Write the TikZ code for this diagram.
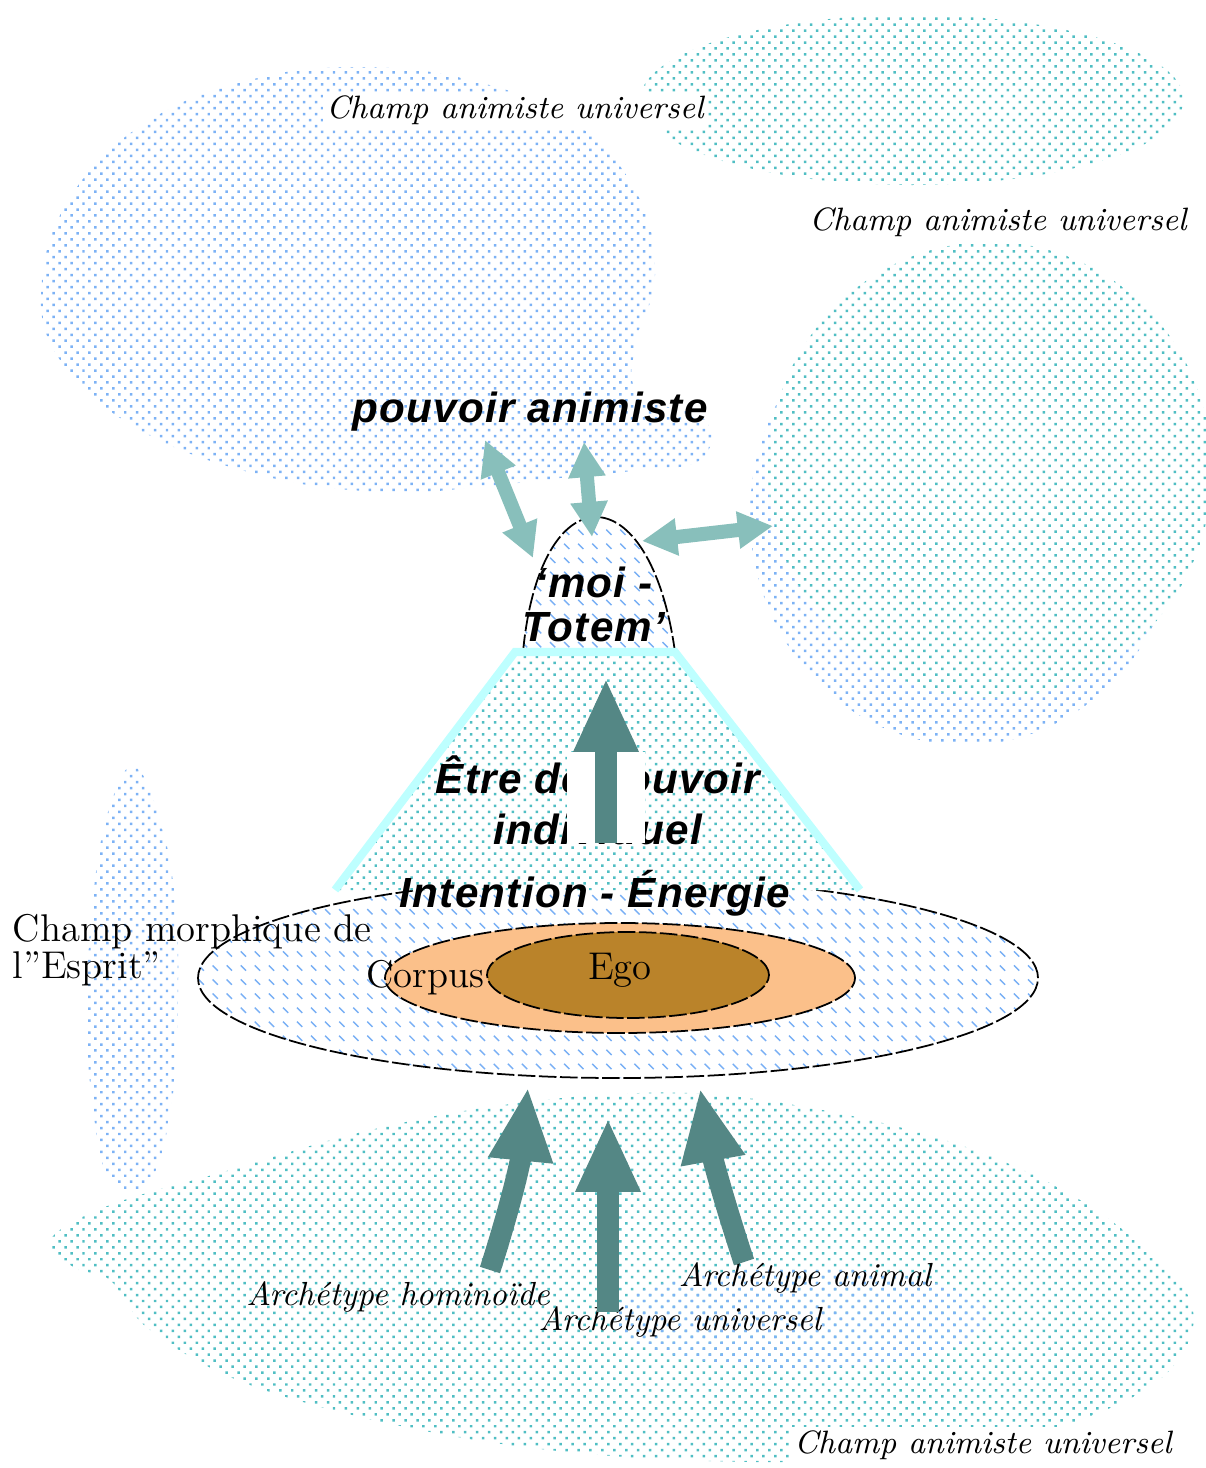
\documentclass[tikz,border=0pt]{standalone}
\usepackage{fontspec}
\usepackage{tikz}
\usetikzlibrary{patterns,patterns.meta,shapes,arrows.meta,positioning}
\newfontfamily\powerfont[LetterSpace=3]{Liberation Sans}
\definecolor{dotblue}{RGB}{125,178,245}
\definecolor{dotteal}{RGB}{80,190,195}
\definecolor{hatchblue}{RGB}{120,175,245}
\definecolor{coneline}{RGB}{190,255,255}
\definecolor{darkteal}{RGB}{84,135,133}
\definecolor{lightteal}{RGB}{136,191,187}
\definecolor{corpusorange}{RGB}{251,192,138}
\definecolor{egobrown}{RGB}{186,131,42}
\pgfdeclarepatternformonly{dashhatch}{\pgfqpoint{-1pt}{-1pt}}{\pgfqpoint{5pt}{5pt}}{\pgfqpoint{4pt}{4pt}}{
  \pgfsetlinewidth{.4pt}
  \pgfpathmoveto{\pgfqpoint{0.5pt}{3pt}}
  \pgfpathlineto{\pgfqpoint{2pt}{1.5pt}}
  \pgfusepath{stroke}}
\tikzstyle{bluefield}=[pattern={Dots[radius=.5pt,distance=2.4pt,angle=45]},pattern color=dotblue]
\tikzstyle{tealfield}=[pattern={Dots[radius=.5pt,distance=2.4pt,angle=45]},pattern color=dotteal]
\tikzstyle{hatched}=[preaction={fill=white},pattern=dashhatch,pattern color=hatchblue]
\tikzstyle{outline}=[draw=black,dash pattern=on 5pt off 1pt,line width=.5pt]
\tikzstyle{ring}=[ellipse,outline,inner sep=0pt]
\tikzstyle{flow}=[darkteal,line width=6pt,-{Triangle[length=21pt,width=17pt]}]
\tikzstyle{link}=[lightteal,line width=4pt,{Triangle[length=10pt,width=10pt]}-{Triangle[length=10pt,width=10pt]}]
\tikzstyle{champ}=[font=\fontsize{9.2}{10}\itshape,fill=white,inner sep=1pt]
\tikzstyle{arch}=[font=\fontsize{9.5}{10}\itshape,inner sep=1pt]
\tikzstyle{power}=[font=\fontsize{12}{12.5}\powerfont\bfseries\itshape,align=center,inner sep=0pt]
\tikzstyle{plain}=[font=\fontsize{11}{10.5}\selectfont,inner sep=0pt]

\begin{document}
\begin{tikzpicture}[x=.1mm, y=-.1mm]
  \useasboundingbox (0,0) rectangle (1205,1468);

  \fill[bluefield] plot[smooth cycle, tension=.7] coordinates {(356,67) (470,80)
    (570,120) (635,190) (655,275) (635,345) (640,395) (705,420) (700,460)
    (640,470) (560,478) (470,488) (380,492) (260,475) (140,430) (60,360)
    (42,280) (75,190) (150,120) (250,80)};
  \fill[tealfield] (912,100) ellipse [x radius=27.2mm, y radius=8.5mm];
  \fill[bluefield] (965,515) ellipse [x radius=21.5mm, y radius=23mm];
  \fill[preaction={fill=white},tealfield] (990,470) ellipse [x radius=22.2mm, y radius=22.8mm];
  \fill[bluefield] plot[smooth cycle, tension=.7] coordinates {(135,767) (160,820)
    (175,900) (178,1000) (172,1100) (150,1180) (110,1180) (92,1100) (87,1000)
    (95,880) (112,800)};
  \fill[tealfield] plot[smooth cycle, tension=.6] coordinates {(50,1240) (110,1205)
    (230,1170) (350,1135) (470,1110) (600,1095) (720,1095) (870,1120)
    (1000,1160) (1110,1220) (1190,1300) (1170,1370) (1080,1420) (950,1450)
    (800,1462) (600,1455) (420,1430) (250,1385) (150,1330) (110,1280)
    (75,1268)};
  \fill[bluefield] (800,1318) ellipse [x radius=19mm, y radius=5mm];

  \node[champ] (cu1) at (515,110) {Champ animiste universel};
  \node[champ] (cu2) at (998,222) {Champ animiste universel};
  \node[champ] (cu3) at (983,1445) {Champ animiste universel};

  \node[ring,hatched,minimum width=84mm,minimum height=20mm] (field) at (618,978) {};

  \path[preaction={fill=white},tealfield] (335,890) -- (515,652) -- (675,652)
    -- (860,890) -- cycle;
  \path[preaction={fill=white},hatched] (523,652) .. controls (540,472) and (650,472) .. (675,652);
  \draw[outline] (523,652) .. controls (540,472) and (650,472) .. (675,652);
  \draw[coneline,line width=2.3pt] (335,890) -- (515,652) -- (675,652) -- (860,890);

  \node[ring,fill=corpusorange,minimum width=47mm,minimum height=11mm] (corpus) at (620,978) {};
  \node[ring,fill=egobrown,minimum width=28.2mm,minimum height=8.6mm] (egoring) at (628,975) {};
  \node[plain] (ego) at (620,970) {Ego};
  \node[plain] (corpuslabel) at (425,978) {Corpus};
  \node[plain,anchor=west,align=left] (cm) at (12,950) {Champ morphique de\\l''Esprit''};

  \node[power] (pa) at (530,412) {pouvoir animiste};
  \node[power] (mt) at (594,604) {‘moi -\\Totem’};
  \node[power] (ie) at (595,893) {Intention - Énergie};
  \node[power,font=\fontsize{12}{14.5}\powerfont\bfseries\itshape] (etre) at (598,800) {Être de pouvoir\\individuel};

  \coordinate (l0) at (485,440);
  \coordinate (l1) at (533,558);
  \coordinate (m0) at (584,442);
  \coordinate (m1) at (592,537);
  \coordinate (r0) at (642,541);
  \coordinate (r1) at (773,526);
  \draw[link] (l0) -- (l1);
  \draw[link] (m0) -- (m1);
  \draw[link] (r0) -- (r1);

  \coordinate (c0) at (606,843);
  \coordinate (c1) at (606,678);
  \draw[flow,preaction={draw=white,line width=22pt,-,shorten >=21pt}] (c0) -- (c1);

  \node[arch] (ah) at (398,1297) {Archétype hominoïde};
  \node[arch] (aa) at (805,1278) {Archétype animal};
  \node[arch] (au) at (680,1322) {Archétype universel};

  \coordinate (h0) at (490,1270);
  \coordinate (h1) at (528,1087);
  \coordinate (u0) at (608,1312);
  \coordinate (u1) at (608,1118);
  \coordinate (n0) at (744,1262);
  \coordinate (n1) at (700,1088);
  \draw[flow] (h0) to[bend right=6] (h1);
  \draw[flow] (u0) -- (u1);
  \draw[flow] (n0) to[bend left=4] (n1);
\end{tikzpicture}
\end{document}
